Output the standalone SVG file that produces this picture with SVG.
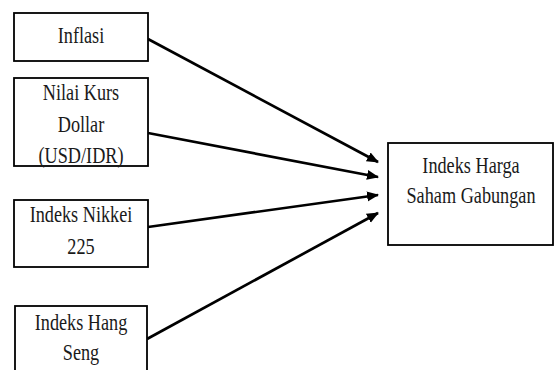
<svg xmlns="http://www.w3.org/2000/svg" width="554" height="370" viewBox="0 0 554 370">
<defs>
<style>
.box{fill:#fff;stroke:#000;stroke-width:1.8}
.lbl{font-family:'Liberation Serif','Times New Roman',serif;font-size:24px;fill:#1a1a1a;text-anchor:middle}
.con{stroke:#000;stroke-width:2.7;fill:none;marker-end:url(#ah)}
</style>
<marker id="ah" markerUnits="userSpaceOnUse" markerWidth="12" markerHeight="12" viewBox="0 0 12 12" refX="11" refY="6" orient="auto">
<path d="M0,1 L12,6 L0,11 Z" fill="#000"/>
</marker>
</defs>
<rect width="554" height="370" fill="#fff"/>
<g id="connectors">
<line class="con" x1="148" y1="39" x2="378" y2="162"/>
<line class="con" x1="148" y1="133" x2="378" y2="177"/>
<line class="con" x1="148" y1="227" x2="378" y2="195"/>
<line class="con" x1="147" y1="339" x2="378" y2="213"/>
</g>
<g id="inflasi">
<rect class="box" x="14" y="13" width="134" height="48"/>
<text class="lbl" transform="translate(81,42.5) scale(0.76,1)">Inflasi</text>
</g>
<g id="kurs">
<rect class="box" x="14" y="78" width="134" height="88"/>
<text class="lbl" transform="translate(81,100) scale(0.76,1)">Nilai Kurs</text>
<text class="lbl" transform="translate(81,131.5) scale(0.76,1)">Dollar</text>
<text class="lbl" transform="translate(81,163) scale(0.76,1)">(USD/IDR)</text>
</g>
<g id="nikkei">
<rect class="box" x="14" y="200" width="134" height="67"/>
<text class="lbl" transform="translate(81,222) scale(0.76,1)">Indeks Nikkei</text>
<text class="lbl" transform="translate(81,254) scale(0.76,1)">225</text>
</g>
<g id="hangseng">
<rect class="box" x="15" y="306" width="132" height="80"/>
<text class="lbl" transform="translate(81,329.5) scale(0.76,1)">Indeks Hang</text>
<text class="lbl" transform="translate(81,360) scale(0.76,1)">Seng</text>
</g>
<g id="ihsg">
<rect class="box" x="388" y="143" width="165" height="102"/>
<text class="lbl" transform="translate(471,173) scale(0.76,1)">Indeks Harga</text>
<text class="lbl" transform="translate(471,203) scale(0.76,1)">Saham Gabungan</text>
</g>
</svg>
